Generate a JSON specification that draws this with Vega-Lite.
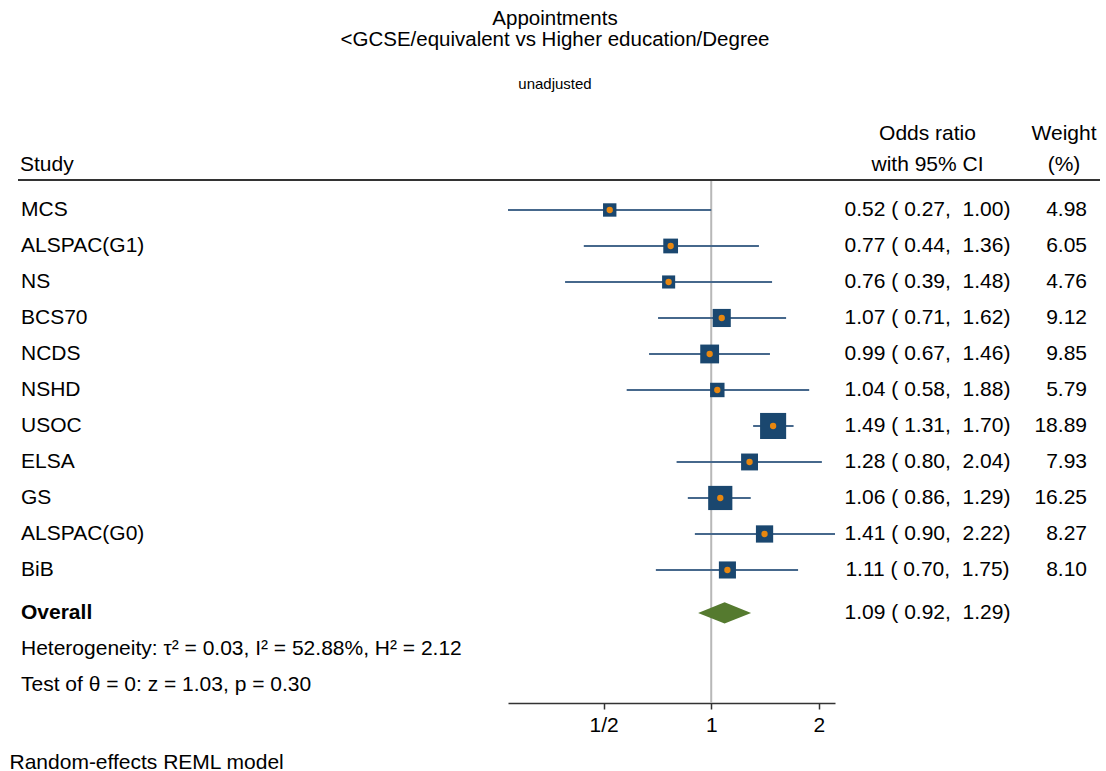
{
  "$schema": "https://vega.github.io/schema/vega-lite/v6.json",
  "padding": {"left": 9, "top": 8, "right": 6, "bottom": 4},
  "background": "#ffffff",
  "bounds": "flush",
  "spacing": 0,
  "config": {
    "font": "Liberation Sans",
    "view": {"stroke": null},
    "text": {"font": "Liberation Sans", "fontSize": 21, "color": "#000000"},
    "title": {"font": "Liberation Sans", "fontSize": 21, "fontWeight": "normal", "color": "#000000", "lineHeight": 31, "baseline": "bottom", "offset": 4},
    "concat": {"spacing": 0}
  },
  "title": {
    "text": ["Appointments", "<GCSE/equivalent vs Higher education/Degree"],
    "subtitle": "unadjusted",
    "fontSize": 20.5,
    "lineHeight": 21,
    "baseline": "top",
    "anchor": "middle",
    "subtitleFont": "Liberation Sans",
    "subtitleFontSize": 15,
    "subtitleColor": "#000000",
    "subtitlePadding": 27,
    "offset": 31
  },
  "datasets": {
    "rows": [
      {"study": "MCS", "kind": "study", "or": 0.52, "lo": 0.27, "hi": 1.00, "w": 4.98, "ci": "0.52 (\u00a00.27,\u00a0\u00a01.00)", "wt": "4.98"},
      {"study": "ALSPAC(G1)", "kind": "study", "or": 0.77, "lo": 0.44, "hi": 1.36, "w": 6.05, "ci": "0.77 (\u00a00.44,\u00a0\u00a01.36)", "wt": "6.05"},
      {"study": "NS", "kind": "study", "or": 0.76, "lo": 0.39, "hi": 1.48, "w": 4.76, "ci": "0.76 (\u00a00.39,\u00a0\u00a01.48)", "wt": "4.76"},
      {"study": "BCS70", "kind": "study", "or": 1.07, "lo": 0.71, "hi": 1.62, "w": 9.12, "ci": "1.07 (\u00a00.71,\u00a0\u00a01.62)", "wt": "9.12"},
      {"study": "NCDS", "kind": "study", "or": 0.99, "lo": 0.67, "hi": 1.46, "w": 9.85, "ci": "0.99 (\u00a00.67,\u00a0\u00a01.46)", "wt": "9.85"},
      {"study": "NSHD", "kind": "study", "or": 1.04, "lo": 0.58, "hi": 1.88, "w": 5.79, "ci": "1.04 (\u00a00.58,\u00a0\u00a01.88)", "wt": "5.79"},
      {"study": "USOC", "kind": "study", "or": 1.49, "lo": 1.31, "hi": 1.70, "w": 18.89, "ci": "1.49 (\u00a01.31,\u00a0\u00a01.70)", "wt": "18.89"},
      {"study": "ELSA", "kind": "study", "or": 1.28, "lo": 0.80, "hi": 2.04, "w": 7.93, "ci": "1.28 (\u00a00.80,\u00a0\u00a02.04)", "wt": "7.93"},
      {"study": "GS", "kind": "study", "or": 1.06, "lo": 0.86, "hi": 1.29, "w": 16.25, "ci": "1.06 (\u00a00.86,\u00a0\u00a01.29)", "wt": "16.25"},
      {"study": "ALSPAC(G0)", "kind": "study", "or": 1.41, "lo": 0.90, "hi": 2.22, "w": 8.27, "ci": "1.41 (\u00a00.90,\u00a0\u00a02.22)", "wt": "8.27"},
      {"study": "BiB", "kind": "study", "or": 1.11, "lo": 0.70, "hi": 1.75, "w": 8.10, "ci": "1.11 (\u00a00.70,\u00a0\u00a01.75)", "wt": "8.10"},
      {"study": "Overall", "kind": "overall", "or": 1.09, "lo": 0.92, "hi": 1.29, "ci": "1.09 (\u00a00.92,\u00a0\u00a01.29)"},
      {"study": "Heterogeneity: τ² = 0.03, I² = 52.88%, H² = 2.12", "kind": "note"},
      {"study": "Test of θ = 0: z = 1.03, p = 0.30", "kind": "note"}
    ]
  },
  "hconcat": [
    {
      "width": 490,
      "height": 523,
      "title": {"text": "Study", "anchor": "start", "dx": 3},
      "data": {"name": "rows"},
      "layer": [
        {
          "transform": [{"filter": "datum.kind == 'study'"}],
          "mark": {"type": "text", "align": "left", "baseline": "middle"},
          "encoding": {
            "x": {"value": 3},
            "y": {"field": "study", "type": "nominal", "axis": null,
                  "scale": {"type": "point", "padding": 0.764, "align": 0.545,
                            "domain": ["MCS", "ALSPAC(G1)", "NS", "BCS70", "NCDS", "NSHD", "USOC", "ELSA", "GS", "ALSPAC(G0)", "BiB", "Overall", "Heterogeneity: τ² = 0.03, I² = 52.88%, H² = 2.12", "Test of θ = 0: z = 1.03, p = 0.30"]}},
            "text": {"field": "study"}
          }
        },
        {
          "transform": [{"filter": "datum.kind == 'overall'"}],
          "mark": {"type": "text", "align": "left", "baseline": "middle", "yOffset": 7, "fontWeight": "bold"},
          "encoding": {
            "x": {"value": 3},
            "y": {"field": "study", "type": "nominal", "axis": null},
            "text": {"field": "study"}
          }
        },
        {
          "transform": [{"filter": "datum.kind == 'note'"}],
          "mark": {"type": "text", "align": "left", "baseline": "middle", "yOffset": 7},
          "encoding": {
            "x": {"value": 3},
            "y": {"field": "study", "type": "nominal", "axis": null},
            "text": {"field": "study"}
          }
        },
        {
          "data": {"values": [{"top": 1}]},
          "mark": {"type": "rule", "color": "#333333", "strokeWidth": 2},
          "encoding": {"y": {"value": 0}}
        }
      ]
    },
    {
      "width": 327,
      "height": 523,
      "data": {"name": "rows"},
      "layer": [
        {
          "data": {"values": [{"ref": 1}]},
          "mark": {"type": "rule", "color": "#b8b8b8", "strokeWidth": 2},
          "encoding": {"x": {"datum": 1, "type": "quantitative"}}
        },
        {
          "data": {"values": [{"top": 1}]},
          "mark": {"type": "rule", "color": "#333333", "strokeWidth": 2},
          "encoding": {"y": {"value": 0}}
        },
        {
          "transform": [{"filter": "datum.kind == 'study'"}],
          "mark": {"type": "rule", "color": "#46688c", "strokeWidth": 2},
          "encoding": {
            "y": {"field": "study", "type": "nominal", "axis": null,
                  "scale": {"type": "point", "padding": 0.764, "align": 0.545,
                            "domain": ["MCS", "ALSPAC(G1)", "NS", "BCS70", "NCDS", "NSHD", "USOC", "ELSA", "GS", "ALSPAC(G0)", "BiB", "Overall", "Heterogeneity: τ² = 0.03, I² = 52.88%, H² = 2.12", "Test of θ = 0: z = 1.03, p = 0.30"]}},
            "x": {"field": "lo", "type": "quantitative",
                  "scale": {"type": "log", "base": 2, "domain": [0.27, 2.22], "nice": false, "zero": false},
                  "axis": {"values": [0.5, 1, 2], "labelExpr": "datum.value < 0.9 ? '1/2' : format(datum.value, 'd')",
                           "grid": false, "domainColor": "#333333", "domainWidth": 1.5, "tickColor": "#333333", "tickWidth": 1.5, "tickSize": 6,
                           "labelFont": "Liberation Sans", "labelFontSize": 21, "labelColor": "#000000", "labelPadding": 5,
                           "title": "Random-effects REML model", "titleX": -499, "titleY": 59, "titleAlign": "left", "titleBaseline": "middle",
                           "titleFont": "Liberation Sans", "titleFontSize": 21, "titleFontWeight": "normal", "titleColor": "#000000"}},
            "x2": {"field": "hi"}
          }
        },
        {
          "transform": [{"filter": "datum.kind == 'study'"}],
          "mark": {"type": "square", "filled": true, "color": "#1a476f", "opacity": 1},
          "encoding": {
            "y": {"field": "study", "type": "nominal"},
            "x": {"field": "or", "type": "quantitative"},
            "size": {"field": "w", "type": "quantitative", "scale": {"domain": [0, 20], "range": [0, 720]}, "legend": null}
          }
        },
        {
          "transform": [{"filter": "datum.kind == 'study'"}],
          "mark": {"type": "circle", "color": "#e8870f", "opacity": 1, "size": 40},
          "encoding": {
            "y": {"field": "study", "type": "nominal"},
            "x": {"field": "or", "type": "quantitative"}
          }
        },
        {
          "transform": [{"filter": "datum.kind == 'overall'"}],
          "mark": {"type": "point", "filled": true, "opacity": 1, "color": "#557a2f", "yOffset": 7,
                   "shape": "M-1,0L0,-0.4L1,0L0,0.4Z", "size": 2809},
          "encoding": {
            "y": {"field": "study", "type": "nominal"},
            "x": {"field": "or", "type": "quantitative"}
          }
        }
      ]
    },
    {
      "width": 185,
      "height": 523,
      "title": {"text": ["Odds ratio", "with 95% CI"], "anchor": "middle"},
      "data": {"name": "rows"},
      "layer": [
        {
          "transform": [{"filter": "datum.kind == 'study'"}],
          "mark": {"type": "text", "align": "center", "baseline": "middle"},
          "encoding": {
            "y": {"field": "study", "type": "nominal", "axis": null,
                  "scale": {"type": "point", "padding": 0.764, "align": 0.545,
                            "domain": ["MCS", "ALSPAC(G1)", "NS", "BCS70", "NCDS", "NSHD", "USOC", "ELSA", "GS", "ALSPAC(G0)", "BiB", "Overall", "Heterogeneity: τ² = 0.03, I² = 52.88%, H² = 2.12", "Test of θ = 0: z = 1.03, p = 0.30"]}},
            "text": {"field": "ci"}
          }
        },
        {
          "transform": [{"filter": "datum.kind == 'overall'"}],
          "mark": {"type": "text", "align": "center", "baseline": "middle", "yOffset": 7},
          "encoding": {
            "y": {"field": "study", "type": "nominal", "axis": null},
            "text": {"field": "ci"}
          }
        },
        {
          "data": {"values": [{"top": 1}]},
          "mark": {"type": "rule", "color": "#333333", "strokeWidth": 2},
          "encoding": {"y": {"value": 0}}
        }
      ]
    },
    {
      "width": 80,
      "height": 523,
      "title": {"text": ["Weight", "(%)"], "anchor": "middle", "dx": 4},
      "data": {"name": "rows"},
      "layer": [
        {
          "transform": [{"filter": "datum.kind == 'study'"}],
          "mark": {"type": "text", "align": "right", "baseline": "middle", "dx": 27},
          "encoding": {
            "y": {"field": "study", "type": "nominal", "axis": null,
                  "scale": {"type": "point", "padding": 0.764, "align": 0.545,
                            "domain": ["MCS", "ALSPAC(G1)", "NS", "BCS70", "NCDS", "NSHD", "USOC", "ELSA", "GS", "ALSPAC(G0)", "BiB", "Overall", "Heterogeneity: τ² = 0.03, I² = 52.88%, H² = 2.12", "Test of θ = 0: z = 1.03, p = 0.30"]}},
            "text": {"field": "wt"}
          }
        },
        {
          "data": {"values": [{"top": 1}]},
          "mark": {"type": "rule", "color": "#333333", "strokeWidth": 2},
          "encoding": {"y": {"value": 0}}
        }
      ]
    }
  ]
}
